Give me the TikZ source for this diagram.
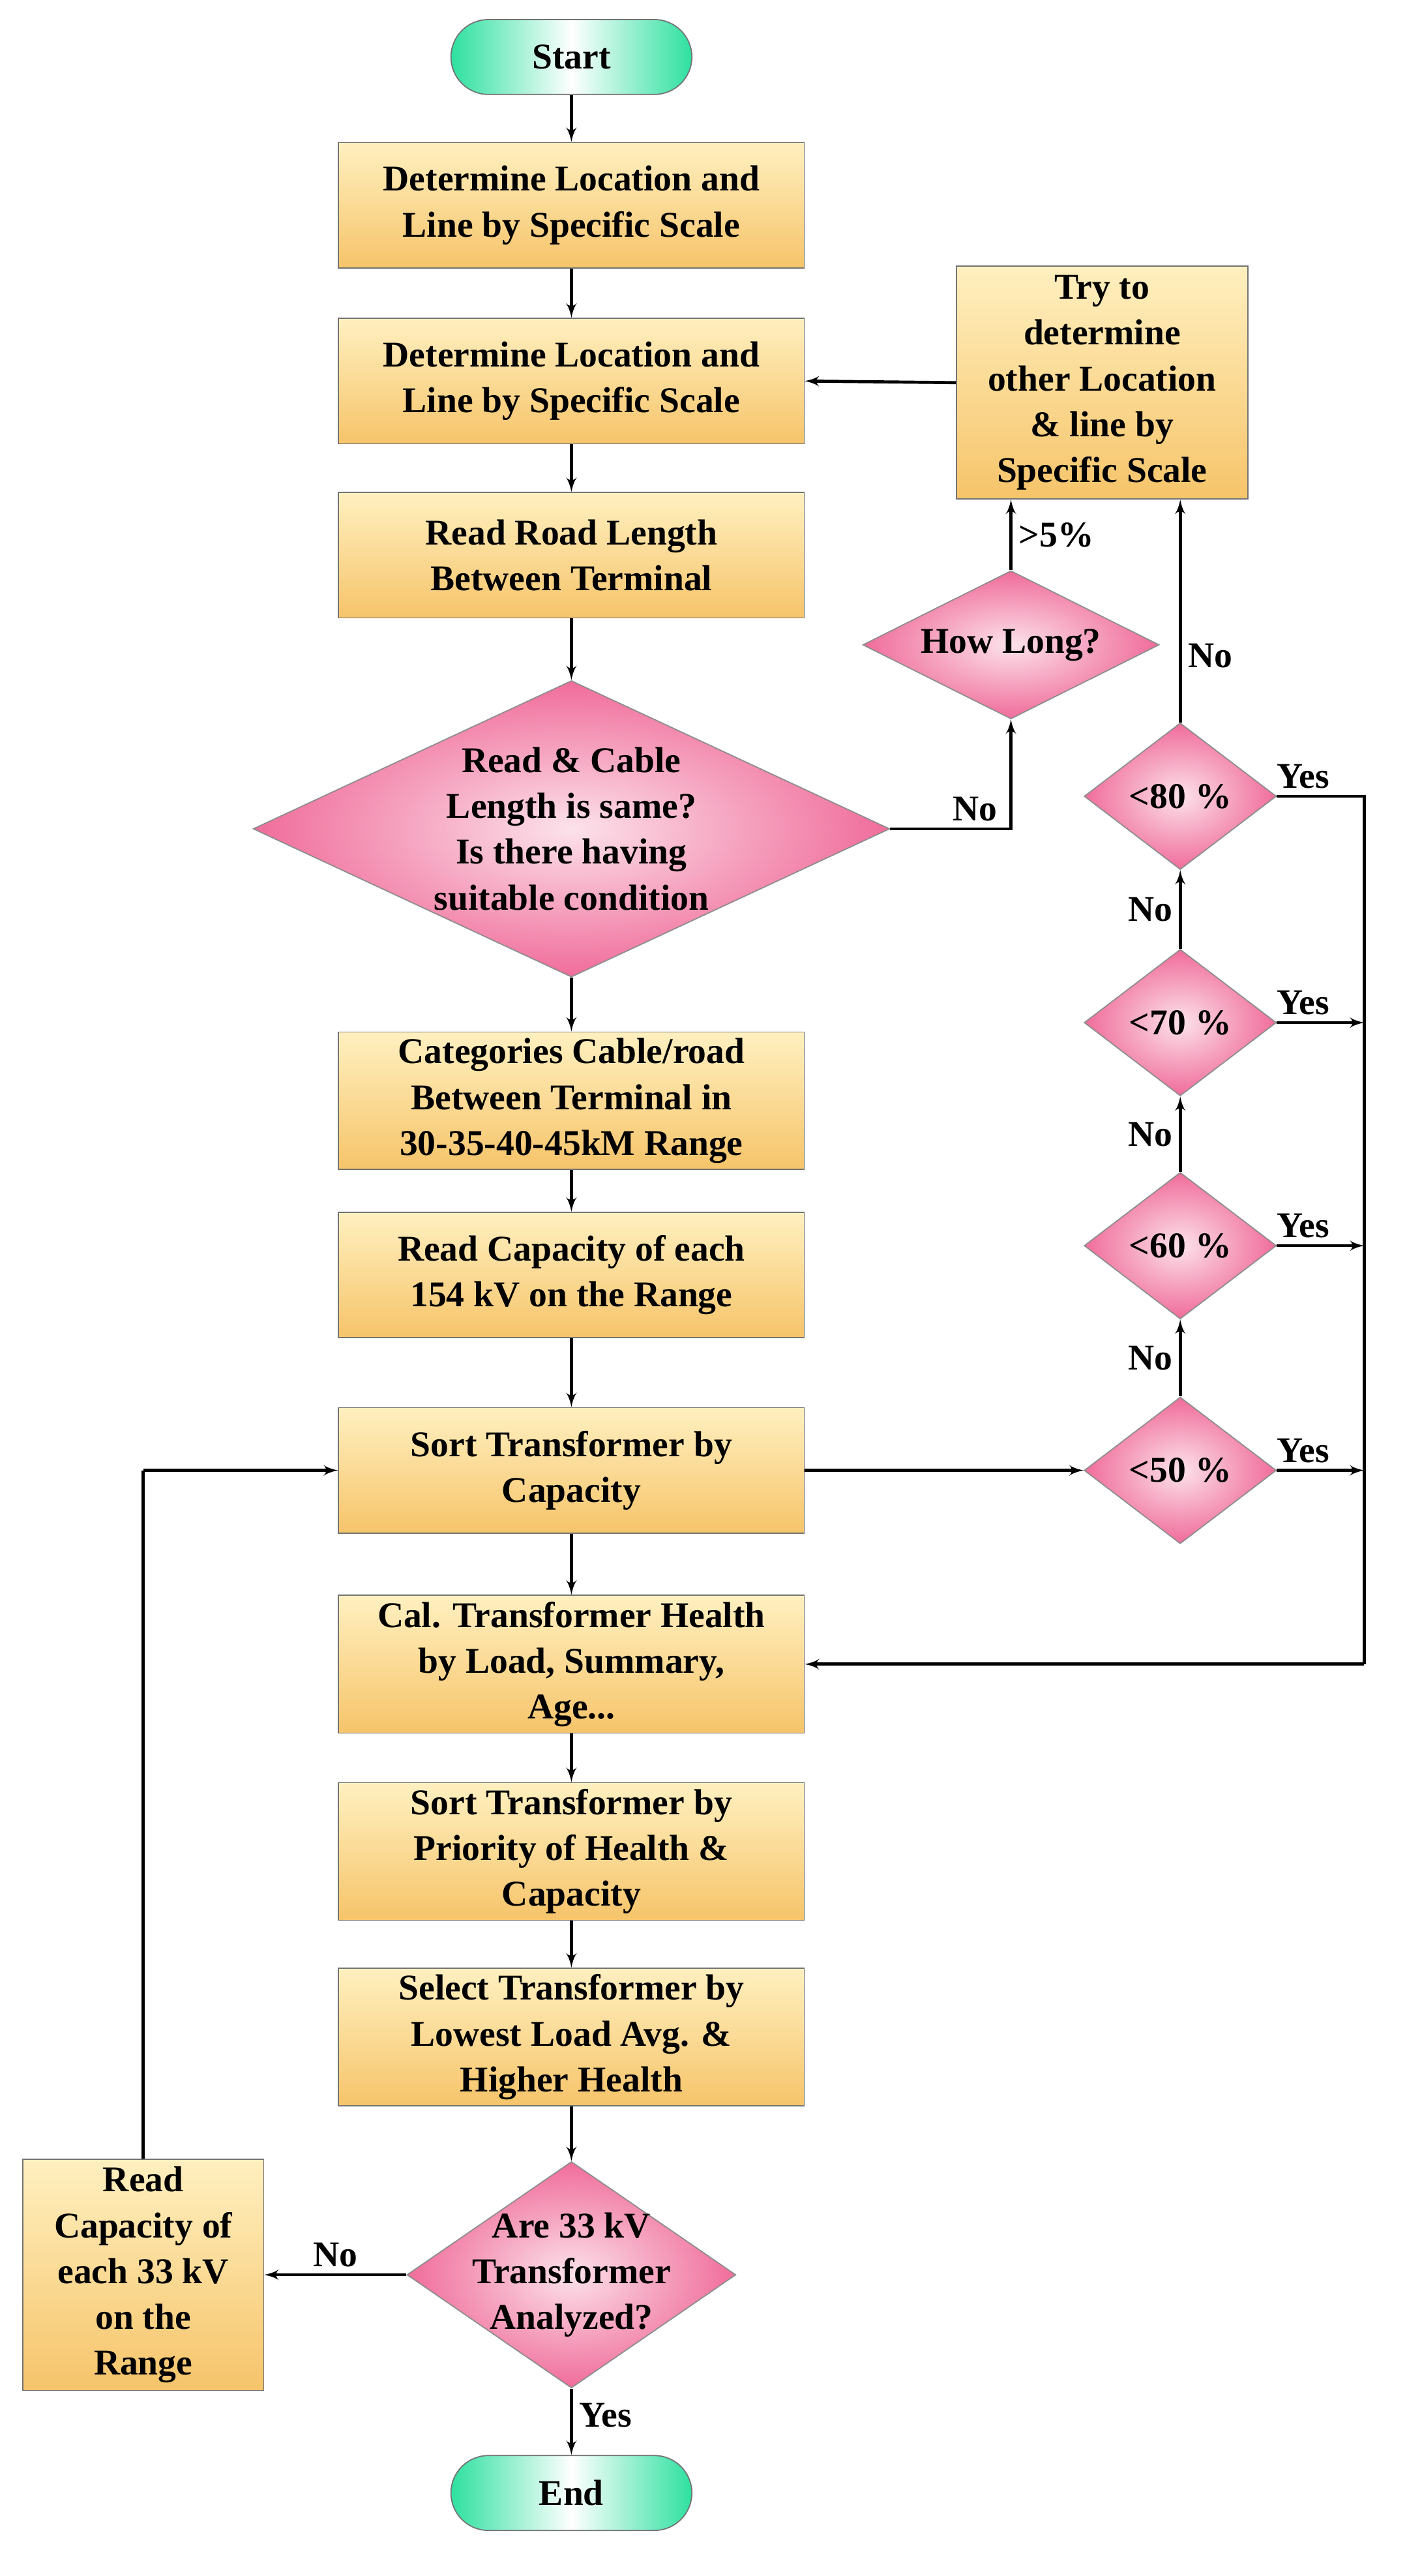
\documentclass[tikz,border=0pt]{standalone}
\usepackage{fontspec}
\setmainfont{Liberation Serif}
\usetikzlibrary{positioning,arrows,shapes.geometric}
\definecolor{boxtop}{HTML}{FFF0C0}
\definecolor{boxbot}{HTML}{F6C46A}
\definecolor{dpink}{HTML}{F06C9A}
\definecolor{tgreen}{HTML}{2EE0A0}
\tikzset{
    txt/.style = {font=\fontsize{19}{24}\selectfont\bfseries},
    block/.style = {
        txt,
        draw=black!55,
        shape=rectangle,
        top color=boxtop,
        bottom color=boxbot,
        minimum height=2.31cm,
        minimum width=8.58cm,
        align=center,
        line width=0.6pt
    },
    decision/.style = {
        draw=black!45,
        shape=diamond,
        inner color=white!80!dpink,
        outer color=dpink,
        inner sep=0pt,
        line width=0.6pt
    },
    term/.style = {
        txt,
        draw=black!55,
        shape=rectangle,
        rounded corners=0.69cm,
        left color=tgreen,
        right color=tgreen,
        middle color=white,
        minimum height=1.38cm,
        minimum width=4.44cm,
        line width=0.6pt
    },
    line/.style = {draw, line width=1.6pt},
    >=latex',
}
\begin{document}
\begin{tikzpicture}[x=0.03cm, y=-0.03cm]
        \useasboundingbox (0,0) rectangle (864,1582);
        % main column
        \node[term] (start) at (351,35) {Start};
        \node[block] (locate) at (351,126) {Determine Location and\\Line by Specific Scale};
        \node[block] (relocate) at (351,234) {Determine Location and\\Line by Specific Scale};
        \node[block] (road) at (351,341) {Read Road Length\\Between Terminal};
        \node[decision, minimum width=11.73cm, minimum height=5.46cm,
              label={[txt, align=center]center:{Read \& Cable\\Length is same?\\Is there having\\suitable condition}}] (same) at (351,509) {};
        \node[block] (categ) at (351,676) {Categories Cable/road\\Between Terminal in\\30-35-40-45kM Range};
        \node[block] (cap154) at (351,783) {Read Capacity of each\\154 kV on the Range};
        \node[block] (sort) at (351,903) {Sort Transformer by\\Capacity};
        \node[block] (health) at (351,1022) {Cal. Transformer Health\\by Load, Summary,\\Age...};
        \node[block] (prio) at (351,1137) {Sort Transformer by\\Priority of Health \&\\Capacity};
        \node[block] (select) at (351,1251) {Select Transformer by\\Lowest Load Avg. \&\\Higher Health};
        \node[decision, minimum width=6.06cm, minimum height=4.17cm,
              label={[txt, align=center]center:{Are 33 kV\\Transformer\\Analyzed?}}] (done) at (351,1397) {};
        \node[term] (end) at (351,1531) {End};
        \node[block, minimum width=4.44cm, minimum height=4.26cm] (cap33) at (88,1397) {Read\\Capacity of\\each 33 kV\\on the\\Range};
        % right column
        \node[block, minimum width=5.37cm, minimum height=4.29cm] (retry) at (677,235) {Try to\\determine\\other Location\\\& line by\\Specific Scale};
        \node[decision, minimum width=5.46cm, minimum height=2.73cm,
              label={[txt]center:How Long?}] (howlong) at (621,396) {};
        \node[decision, minimum width=3.54cm, minimum height=2.7cm,
              label={[txt]center:<80 \%}] (p80) at (725,489) {};
        \node[decision, minimum width=3.54cm, minimum height=2.7cm,
              label={[txt]center:<70 \%}] (p70) at (725,628) {};
        \node[decision, minimum width=3.54cm, minimum height=2.7cm,
              label={[txt]center:<60 \%}] (p60) at (725,765) {};
        \node[decision, minimum width=3.54cm, minimum height=2.7cm,
              label={[txt]center:<50 \%}] (p50) at (725,903) {};
        \coordinate (rail80) at (838,489);
        \coordinate (rail70) at (838,628);
        \coordinate (rail60) at (838,765);
        \coordinate (rail50) at (838,903);
        \coordinate (railend) at (838,1022);
        \coordinate (loop) at (90,903);

        \path[line, ->] (start) -- (locate);
        \path[line, ->] (locate) -- (relocate);
        \path[line, ->] (relocate) -- (road);
        \path[line, ->] (road) -- (same);
        \path[line, ->] (same) -- (categ);
        \path[line, ->] (categ) -- (cap154);
        \path[line, ->] (cap154) -- (sort);
        \path[line, ->] (sort) -- (health);
        \path[line, ->] (health) -- (prio);
        \path[line, ->] (prio) -- (select);
        \path[line, ->] (select) -- (done);
        \path[line, ->] (done) -- node[txt, right, pos=0.4] {Yes} (end);
        \path[line, ->] (done) -- node[txt, above] {No} (cap33);
        \path[line, -] (cap33.north) -- (cap33.north |- loop);
        \path[line, ->] (cap33.north |- loop) -- (sort.west);

        \path[line, ->] (same.east) -| node[txt, above, pos=0.35] {No} (howlong.south);
        \path[line, ->] (howlong.north) -- node[txt, right] {>5\%} (retry.south -| howlong.north);
        \path[line, ->] (retry.west) -- (relocate.east);
        \path[line, ->] (p80.north) -- node[txt, right, pos=0.3] {No} (retry.south -| p80.north);
        \path[line, ->] (p70.north) -- node[txt, left] {No} (p80.south);
        \path[line, ->] (p60.north) -- node[txt, left] {No} (p70.south);
        \path[line, ->] (p50.north) -- node[txt, left] {No} (p60.south);
        \path[line, ->] (sort.east) -- (p50.west);
        \path[line, ->] (p50.east) -- node[txt, above, pos=0.3] {Yes} (rail50);
        \path[line, ->] (p60.east) -- node[txt, above, pos=0.3] {Yes} (rail60);
        \path[line, ->] (p70.east) -- node[txt, above, pos=0.3] {Yes} (rail70);
        \path[line, -] (p80.east) -- node[txt, above, pos=0.3] {Yes} (rail80) -- (railend);
        \path[line, ->] (railend) -- (health.east);
    \end{tikzpicture}
\end{document}
